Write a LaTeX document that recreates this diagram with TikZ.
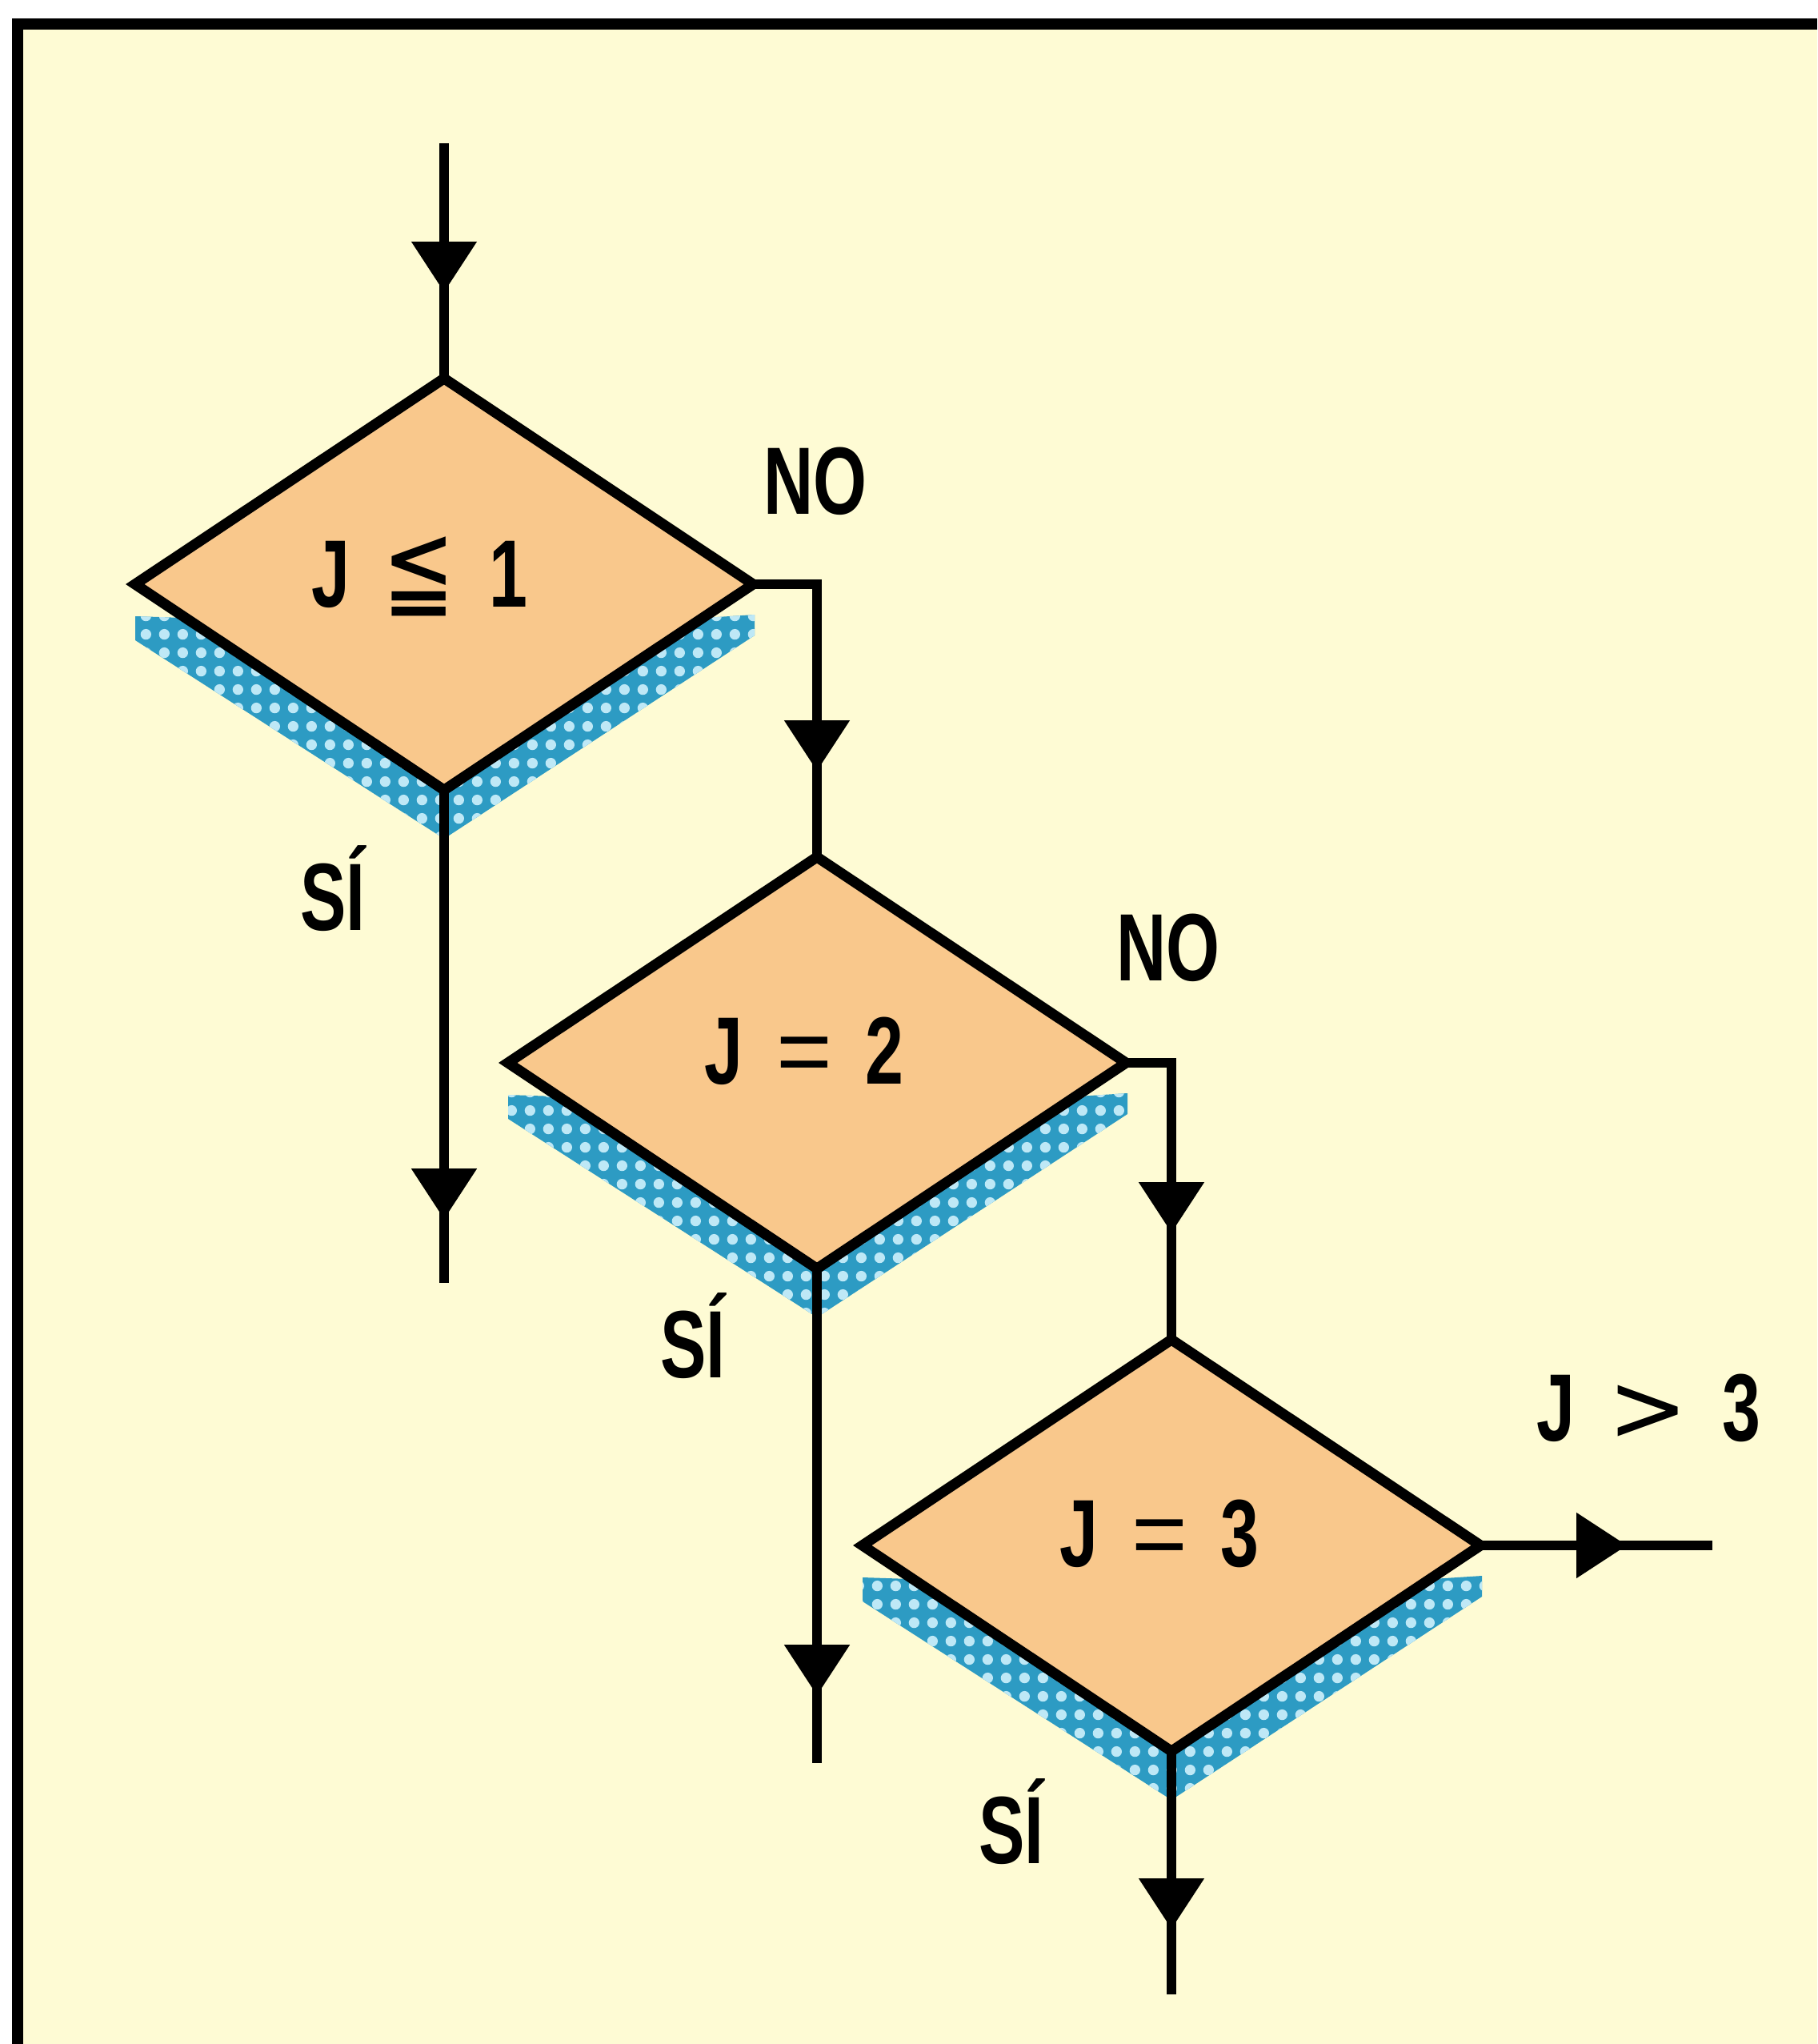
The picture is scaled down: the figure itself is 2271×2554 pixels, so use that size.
\documentclass[tikz,border=0pt]{standalone}
\usepackage{fontspec}
\newfontfamily\condfont{Liberation Sans Bold}[FakeStretch=0.72]
\newfontfamily\eqfont{Liberation Sans}
\newfontfamily\symfont{DejaVu Sans}
\usetikzlibrary{shapes.geometric, arrows.meta, decorations.markings, patterns.meta, calc}
\definecolor{paper}{RGB}{254,251,212}
\definecolor{peach}{RGB}{249,200,140}
\definecolor{shadeblue}{RGB}{45,155,195}
\definecolor{shadedot}{RGB}{190,232,246}
\newcommand\gap{\hspace{0.42cm}}
\tikzset{
  decision/.style={diamond, draw, line width=3.7pt, fill=peach, inner sep=0pt, outer sep=0pt,
    minimum width=7.72cm, minimum height=5.14cm, text depth=0.3cm,
    font=\condfont\fontsize{34}{40}\selectfont},
  answer/.style={anchor=base, font=\condfont\fontsize{34}{40}\selectfont},
  flow/.style={line width=3.3pt},
  tipat/.style={postaction={decorate}, decoration={markings,
    mark=at position #1 with {\arrow{Triangle[length=18pt,width=22.5pt]}}}},
  stripe/.style={preaction={fill=shadeblue}, pattern={Dots[distance=6.5pt, radius=1.9pt]},
    pattern color=shadedot}
}
\begin{document}
\begin{tikzpicture}[x=0.01cm, y=-0.01cm]
\useasboundingbox (0,0) rectangle (2271,2554);
\fill[white] (0,0) rectangle (2271,2554);
\fill[paper] (22,30) rectangle (2271,2554);
\draw[line width=3.7pt] (22,2554) -- (22,30) -- (2271,30);
% centres of the three tests
\coordinate (c1) at (555,730);
\coordinate (c2) at (1021,1328);
\coordinate (c3) at (1464,1931);
% blue shadows under the lower edges
\foreach \c in {c1,c2,c3}
  \path[stripe] ($(\c)+(-386,40)$) -- ($(\c)+(-326,42)$) -- ($(\c)+(0,257)$)
    -- ($(\c)+(326,42)$) -- ($(\c)+(388,38)$) -- ($(\c)+(388,64)$)
    -- ($(\c)+(0,318)$) -- ($(\c)+(-386,70)$) -- cycle;
\node[decision] (d1) at (c1) {J\gap\scalebox{0.9}[1.15]{\symfont ≦}\gap 1\kern0.62cm};
\node[decision] (d2) at (c2) {J\gap{\eqfont =}\gap 2\kern0.32cm};
\node[decision] (d3) at (c3) {J\gap{\eqfont =}\gap 3\kern0.3cm};
% free ends
\coordinate (in) at (555,179);
\coordinate (out1) at (555,1603);
\coordinate (out2) at (1021,2203);
\coordinate (out3) at (1464,2492);
\coordinate (out4) at (2140,1931);
\draw[flow, tipat=1.86cm] (in) -- (d1.north);
\draw[flow, tipat=3.13cm] (d1.east) -| (d2.north);
\draw[flow, tipat=5.36cm] (d1.south) -- (out1);
\draw[flow, tipat=2.69cm] (d2.east) -| (d3.north);
\draw[flow, tipat=5.33cm] (d2.south) -- (out2);
\draw[flow, tipat=2.22cm] (d3.south) -- (out3);
\draw[flow, tipat=1.83cm] (d3.east) -- (out4);
% answers
\node[answer] (no1) at (1019,642) {NO};
\node[answer] (no2) at (1460,1225) {NO};
\node[answer] (si1) at (416,1162) {SÍ};
\node[answer] (si2) at (866,1721) {SÍ};
\node[answer] (si3) at (1264,2328) {SÍ};
\node[answer] (gt3) at (2060,1800) {J\gap{\symfont >}\gap 3};
\end{tikzpicture}
\end{document}
